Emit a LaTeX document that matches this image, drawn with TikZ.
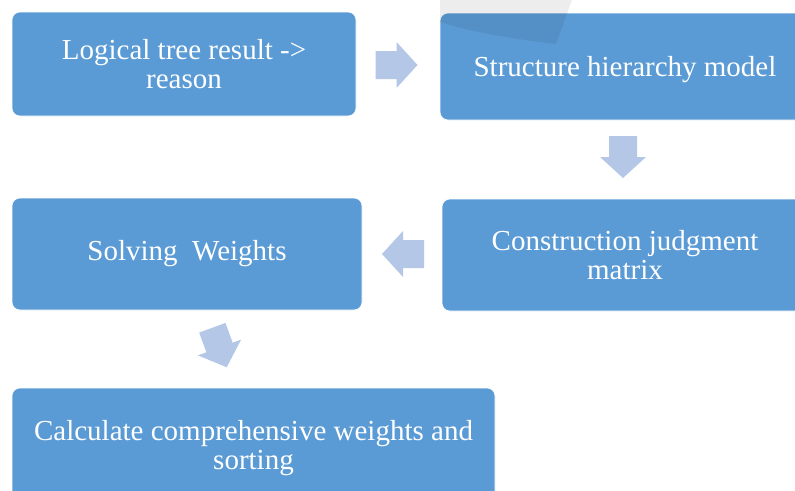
\documentclass[tikz,border=0pt]{standalone}
\usepackage{fontspec}
\setmainfont{Liberation Serif}
\definecolor{boxblue}{HTML}{5B9BD5}
\definecolor{arrowblue}{HTML}{B4C7E7}
\tikzset{
  boxtext/.style={text=white, align=center, inner sep=0pt, font=\fontsize{29}{29.5}\selectfont},
  stepbox/.style={rectangle, rounded corners=8pt, fill=boxblue, draw=white, line width=0.6pt, boxtext},
  blockarrow/.pic={
    \fill[arrowblue] (-21,-14) -- (0,-14) -- (0,-23) -- (21,0) -- (0,23) -- (0,14) -- (-21,14) -- cycle;
  }
}
\begin{document}
\begin{tikzpicture}[x=1pt,y=-1pt]
\useasboundingbox (0,0) rectangle (795,490);
\clip (0,0) rectangle (795,490);
\fill[white] (0,0) rectangle (795,490);
% boxes
\node[stepbox, minimum width=344pt, minimum height=104pt] (b1) at (184,64) {Logical tree result ->\\reason};
\node[stepbox, minimum width=370pt, minimum height=107pt, text height=26pt] (b2) at (625,66.5) {Structure hierarchy model};
\node[stepbox, minimum width=366pt, minimum height=112pt] (b3) at (625,255) {Construction judgment\\matrix};
\node[stepbox, minimum width=350pt, minimum height=112pt] (b4) at (187,254) {Solving~~Weights};
\node[stepbox, minimum width=483pt, minimum height=114pt] (b5) at (253.5,445) {};
\node[boxtext] (b5text) at ([yshift=-3pt]b5.center) {Calculate comprehensive weights and\\sorting};
% block arrows between the boxes
\coordinate (a1) at (396.5,65);
\coordinate (a2) at (623,157);
\coordinate (a3) at (403,254);
\coordinate (a4) at (219.5,347.5);
\pic at (a1) {blockarrow};
\pic[rotate=-90] at (a2) {blockarrow};
\pic[rotate=180] at (a3) {blockarrow};
\pic[rotate=-70] at (a4) {blockarrow};
% faint watermark
\fill[black, opacity=0.07] (440,0) -- (572,0) -- (556,44) .. controls (520,40) and (470,32) .. (440,22) -- cycle;
\end{tikzpicture}
\end{document}
